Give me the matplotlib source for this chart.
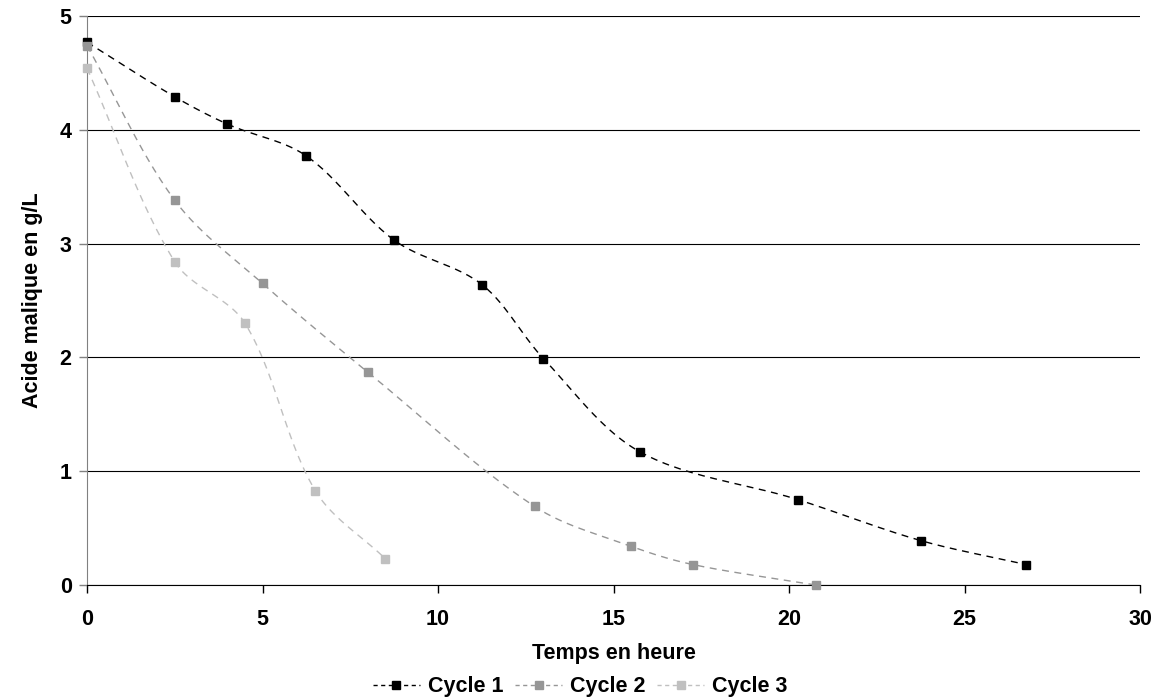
import numpy as np
import matplotlib.pyplot as plt

plt.rcParams['font.family'] = ['Liberation Sans', 'DejaVu Sans']
plt.rcParams['font.weight'] = 'bold'

# Data
t_c1 = [0, 2.5, 4.0, 6.25, 8.75, 11.25, 13.0, 15.75, 20.25, 23.75, 26.75]
acid_c1 = [4.77, 4.29, 4.05, 3.77, 3.03, 2.64, 1.99, 1.17, 0.75, 0.39, 0.18]
t_c2 = [0, 2.5, 5.0, 8.0, 12.75, 15.5, 17.25, 20.75]
acid_c2 = [4.74, 3.38, 2.65, 1.87, 0.69, 0.34, 0.18, 0.0]
t_c3 = [0, 2.5, 4.5, 6.5, 8.5]
acid_c3 = [4.54, 2.84, 2.30, 0.83, 0.23]
labels = ["Cycle 1", "Cycle 2", "Cycle 3"]
colors = ["#000000", "#969696", "#C0C0C0"]

FS = 15.5
SX, SY = 35.1, 113.8  # rough screen scale per data unit, used for smoothing


def smooth(x, y, n=30):
    # chord-scaled Bezier smoothing, close to Excel's smoothed lines
    p = np.column_stack([np.asarray(x, float) * SX, np.asarray(y, float) * SY])
    pts = np.vstack([p[0], p, p[-1]])
    out = []
    s = np.linspace(0, 1, n)[:, None]
    for i in range(1, len(pts) - 2):
        p0, p1, p2, p3 = pts[i - 1], pts[i], pts[i + 1], pts[i + 2]
        d01 = np.linalg.norm(p1 - p0)
        d12 = np.linalg.norm(p2 - p1)
        d23 = np.linalg.norm(p3 - p2)
        t1 = (p2 - p0) / (d01 + d12)
        t2 = (p3 - p1) / (d12 + d23)
        c1 = p1 + t1 * d12 / 3
        c2 = p2 - t2 * d12 / 3
        b = (1 - s) ** 3 * p1 + 3 * (1 - s) ** 2 * s * c1 + 3 * (1 - s) * s ** 2 * c2 + s ** 3 * p2
        out.append(b)
    out = np.vstack(out)
    return out[:, 0] / SX, out[:, 1] / SY


fig = plt.figure(figsize=(11.6, 6.97), dpi=100)
ax = fig.add_axes([0.075, 0.1607, 0.908, 0.8163])

series = [(t_c1, acid_c1), (t_c2, acid_c2), (t_c3, acid_c3)]
handles = []
for (tx, ay), lab, col in zip(series, labels, colors):
    sx, sy = smooth(tx, ay)
    ax.plot(sx, sy, color=col, lw=1.0, ls=(0, (5, 4)), zorder=3)
    ax.plot(tx, ay, ls="none", marker="s", ms=5.5, color=col, mec=col, zorder=4, clip_on=False)
    h, = ax.plot([], [], color=col, lw=1.0, ls=(0, (3, 2.5)), marker="s", ms=5.5, mec=col, label=lab)
    handles.append(h)

ax.set_xlim(0, 30)
ax.set_ylim(0, 5)
ax.set_xticks(range(0, 31, 5))
ax.set_yticks(range(0, 6))
ax.yaxis.grid(True, color="#000000", lw=0.8)
ax.set_axisbelow(True)
for s in ["top", "right"]:
    ax.spines[s].set_visible(False)
ax.spines["left"].set_color("#808080")
ax.spines["bottom"].set_color("#000000")
ax.tick_params(axis="both", direction="out", length=6, width=1, labelsize=FS)
ax.tick_params(axis="y", colors="#808080", labelcolor="black", pad=5)
ax.tick_params(axis="x", colors="black", pad=11)

ax.set_xlabel("Temps en heure", fontsize=FS, fontweight="bold", labelpad=10)
ax.set_ylabel("Acide malique en g/L", fontsize=FS, fontweight="bold", labelpad=12)

fig.legend(handles=handles, loc="lower center", bbox_to_anchor=(0.5, -0.028), ncol=3,
           frameon=False, fontsize=FS, handlelength=2.2, columnspacing=0.55, handletextpad=0.35)

fig.savefig("out.png", dpi=100)
